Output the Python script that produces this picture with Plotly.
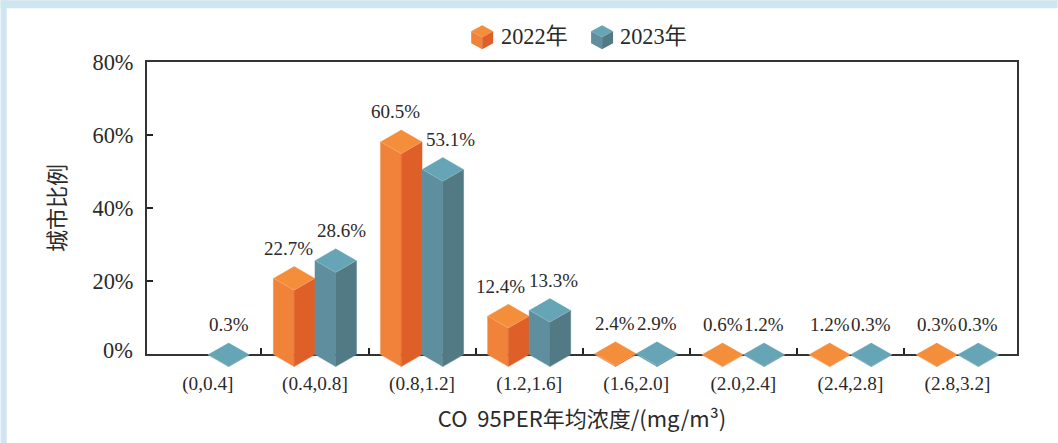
import plotly.graph_objects as go

# ---- data ----
categories = ["(0,0.4]", "(0.4,0.8]", "(0.8,1.2]", "(1.2,1.6]", "(1.6,2.0]", "(2.0,2.4]", "(2.4,2.8]", "(2.8,3.2]"]
labels_2022 = [None, "22.7%", "60.5%", "12.4%", "2.4%", "0.6%", "1.2%", "0.3%"]
labels_2023 = ["0.3%", "28.6%", "53.1%", "13.3%", "2.9%", "1.2%", "0.3%", "0.3%"]
# height of the drawn block (the centre of its top face)
heights_2022 = [None, 20.8, 57.9, 10.5, 0.3, 0.0, 0.0, 0.0]
heights_2023 = [0.0, 25.6, 50.4, 12.1, 0.3, 0.0, 0.0, 0.0]
y_ticks = [20, 40, 60, 80]
y_tick_text = ["20%", "40%", "60%", "80%"]

# ---- label nudges (pixels), kept apart from the values ----
nudge_2022 = [0, -6, -6, -8, 0, 0, 0, 0]
nudge_2023 = [0, 6, 8, 4, 0, 0, 0, 0]

# ---- layout constants ----
W, H = 1058, 443
L, R, T, B = 146.5, 1017.3, 61.7, 370
ZERO_LINE_PX = 353.7   # the axis line is drawn 1px outside its domain
ZERO_PX = 354.6
PX_PER_PCT = 3.68
CENTER0, PX_PER_CAT = 207.4, 107.2
X_RANGE = [(L - CENTER0) / PX_PER_CAT, (R - CENTER0) / PX_PER_CAT]
HALF_W = 20.8 / PX_PER_CAT       # half width of a block in category units
DEPTH = 12 / PX_PER_PCT          # half height of top face in % units
OFFSET = HALF_W
SERIF = "'Liberation Serif', 'Noto Sans CJK SC', serif"
SANS = "'Noto Sans CJK SC', 'Noto Sans', sans-serif"
INK = "#2a2a2a"

ORANGE = dict(top="#F48E3B", left="#F1823A", right="#DE6028", edge="rgba(255,225,195,0.3)")
TEAL = dict(top="#66A5B6", left="#5F8E9E", right="#527A85", edge="rgba(220,240,245,0.3)")


def faces(series_heights, shift):
    left_x, left_y, right_x, right_y, top_x, top_y = [], [], [], [], [], []
    for i, h in enumerate(series_heights):
        if h is None:
            continue
        c = i + shift
        left_x += [c - HALF_W, c, c, c - HALF_W, c - HALF_W, None]
        left_y += [0, -DEPTH, h - DEPTH, h, 0, None]
        right_x += [c + HALF_W, c, c, c + HALF_W, c + HALF_W, None]
        right_y += [0, -DEPTH, h - DEPTH, h, 0, None]
        top_x += [c - HALF_W, c, c + HALF_W, c, c - HALF_W, None]
        top_y += [h, h + DEPTH, h, h - DEPTH, h, None]
    return left_x, left_y, right_x, right_y, top_x, top_y


fig = go.Figure()

# empty trace so that the axes subplot (x, y) exists
fig.add_trace(go.Scatter(x=[0], y=[0], mode="markers", marker=dict(opacity=0), xaxis="x", yaxis="y",
                         hoverinfo="skip", showlegend=False))


def add_series(name, hs, labels, shift, col, nudges):
    lx, ly, rx, ry, tx, ty = faces(hs, shift)
    for xs, ys, c, lc, lw in ((lx, ly, col["left"], col["left"], 0.4),
                              (rx, ry, col["right"], col["right"], 0.4),
                              (tx, ty, col["top"], col["edge"], 0.5)):
        fig.add_trace(go.Scatter(x=xs, y=ys, mode="lines", fill="toself", fillcolor=c,
                                 line=dict(color=lc, width=lw), name=name, xaxis="x", yaxis="y2",
                                 hoverinfo="skip", showlegend=False))
    for i, (h, t, n) in enumerate(zip(hs, labels, nudges)):
        if h is None or t is None:
            continue
        fig.add_annotation(x=i + shift, y=h, xref="x", yref="y2", text=t, showarrow=False,
                           xanchor="center", yanchor="middle", xshift=n, yshift=30,
                           font=dict(family=SERIF, size=19, color=INK))


add_series("2022年", heights_2022, labels_2022, -OFFSET, ORANGE, nudge_2022)
add_series("2023年", heights_2023, labels_2023, OFFSET, TEAL, nudge_2023)


def px(x):
    return (x - L) / (R - L)


def py(y):
    return (B - y) / (B - T)


def cube_shapes(cx, cy, col):
    """legend icon, pixel-placed in paper coordinates"""
    w, d, h = 11, 6, 12
    pts = {
        "top": [(cx - w, cy - d), (cx, cy - 2 * d), (cx + w, cy - d), (cx, cy)],
        "left": [(cx - w, cy - d), (cx, cy), (cx, cy + h), (cx - w, cy + h - d)],
        "right": [(cx + w, cy - d), (cx, cy), (cx, cy + h), (cx + w, cy + h - d)],
    }
    out = []
    for k, p in pts.items():
        path = "M " + " L ".join(f"{px(a):.5f},{py(b):.5f}" for a, b in p) + " Z"
        out.append(dict(type="path", xref="paper", yref="paper", path=path, fillcolor=col[k],
                        line=dict(width=0), layer="above"))
    return out


shapes = [
    dict(type="rect", xref="paper", yref="paper", x0=px(0), x1=px(W), y0=py(0), y1=py(8),
         fillcolor="#CFE5F0", line=dict(width=0), layer="below"),
    dict(type="rect", xref="paper", yref="paper", x0=px(0), x1=px(6), y0=py(0), y1=py(H),
         fillcolor="#CFE5F0", line=dict(width=0), layer="below"),
]
shapes += cube_shapes(482, 37, ORANGE)
shapes += cube_shapes(602, 37, TEAL)

for txt, xpos in (("2022年", 498.5), ("2023年", 617.5)):
    fig.add_annotation(x=px(xpos), y=py(36), xref="paper", yref="paper", text=txt, showarrow=False,
                       xanchor="left", yanchor="middle", font=dict(family=SERIF, size=22.3, color=INK))

# "0%" sits a little above the axis in the reference
fig.add_annotation(x=px(134), y=py(350), xref="paper", yref="paper", text="0%", showarrow=False,
                   xanchor="right", yanchor="middle", font=dict(family=SERIF, size=22.4, color=INK))

axis_color = "#333333"
fig.update_layout(
    width=W, height=H, autosize=False,
    margin=dict(l=L, r=W - R, t=T, b=H - B, pad=0),
    paper_bgcolor="white", plot_bgcolor="rgba(0,0,0,0)",
    showlegend=False, shapes=shapes,
    xaxis=dict(
        range=X_RANGE, anchor="y", showgrid=False, zeroline=False,
        showline=True, mirror=True, linecolor=axis_color, linewidth=2,
        tickmode="array", tickvals=list(range(len(categories))), ticktext=categories,
        ticks="outside", ticklen=11, tickcolor="rgba(0,0,0,0)",
        tickfont=dict(family=SERIF, size=19.3, color=INK),
        minor=dict(tickmode="array", tickvals=[i + 0.5 for i in range(len(categories) - 1)],
                   ticks="inside", ticklen=6, tickwidth=2, tickcolor="#222222", showgrid=False),
        title=dict(text="CO  95PER年均浓度/(mg/m³)", font=dict(family=SANS, size=22, color=INK), standoff=18),
    ),
    yaxis=dict(
        domain=[(B - ZERO_LINE_PX) / (B - T), 1], range=[0, 80], anchor="x", showgrid=False, zeroline=False,
        showline=True, mirror=True, linecolor=axis_color, linewidth=2,
        tickmode="array", tickvals=y_ticks, ticktext=y_tick_text,
        ticks="inside", ticklen=6, tickwidth=2, tickcolor="#222222",
        ticklabelstandoff=7,
        tickfont=dict(family=SERIF, size=22.4, color=INK),
        title=dict(text="城市比例", font=dict(family=SANS, size=22, color=INK), standoff=21),
    ),
    yaxis2=dict(
        domain=[0, 1], range=[-(B - ZERO_PX) / PX_PER_PCT, (ZERO_PX - T) / PX_PER_PCT], anchor="x", visible=False,
    ),
)

fig.write_html("out.html", config=dict(displayModeBar=False),
               post_script="document.body.style.margin='0';document.body.style.overflow='hidden';")
